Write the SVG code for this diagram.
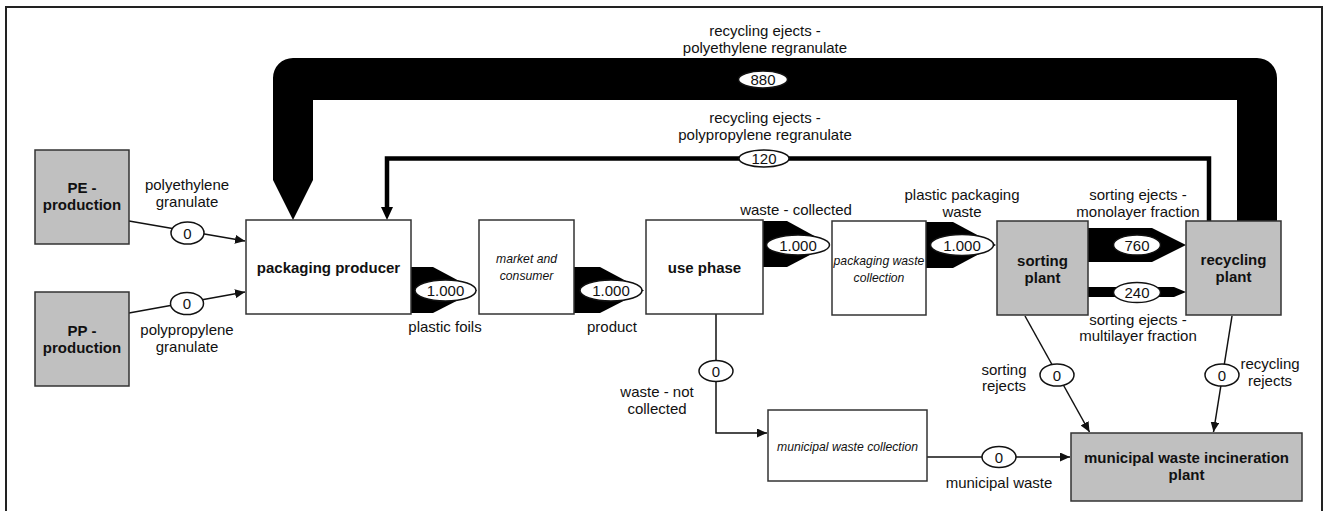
<svg xmlns="http://www.w3.org/2000/svg" width="1328" height="511" viewBox="0 0 1328 511">
<defs>
<style>
text{font-family:"Liberation Sans",Arial,sans-serif;fill:#111;text-anchor:middle}
.l{font-size:15px}
.b{font-size:15px;font-weight:bold}
.i{font-size:12.2px;font-style:italic}
.box{fill:#fff;stroke:#333;stroke-width:1.5}
.g{fill:#c0c0c0;stroke:#333;stroke-width:1.5}
.ln{fill:none;stroke:#111;stroke-width:1.5}
.fat{fill:#000}
.ov{fill:#fff;stroke:#111;stroke-width:1.5}
.v{font-size:15px}
</style>
<marker id="ah" markerUnits="userSpaceOnUse" markerWidth="11" markerHeight="9" refX="10" refY="4.5" orient="auto">
<path d="M0,0 L10,4.5 L0,9 Z" fill="#111"/>
</marker>
</defs>
<rect x="6" y="7" width="1316" height="520" fill="#fff" stroke="#222" stroke-width="2"/>

<g id="connectors">
<!-- 880 recycling PE regranulate -->
<path class="fat" d="M273 180 L293 220 L313 180 V100 H1237 V221 H1277 V78 A20 20 0 0 0 1257 58 H293 A20 20 0 0 0 273 78 Z"/>
<ellipse class="ov" cx="763" cy="79.5" rx="24.5" ry="8.5"/>
<text class="v" x="763" y="85">880</text>
<text class="l" x="765" y="36">recycling ejects -</text>
<text class="l" x="765" y="52.5">polyethylene regranulate</text>

<!-- 120 recycling PP regranulate -->
<path d="M1209 221 V158.5 H387 V208" fill="none" stroke="#000" stroke-width="4.5" stroke-linejoin="miter"/>
<polygon points="381,207 393,207 387,220" fill="#000"/>
<ellipse class="ov" cx="764" cy="158.5" rx="25" ry="8.5"/>
<text class="v" x="764" y="164">120</text>
<text class="l" x="765" y="123">recycling ejects -</text>
<text class="l" x="765" y="140">polypropylene regranulate</text>

<!-- PE granulate -->
<line class="ln" x1="129" y1="221" x2="245" y2="241" marker-end="url(#ah)"/>
<ellipse class="ov" cx="187.5" cy="233" rx="16.5" ry="11"/>
<text class="v" x="187.5" y="238.5">0</text>
<text class="l" x="187" y="190">polyethylene</text>
<text class="l" x="187" y="207">granulate</text>

<!-- PP granulate -->
<line class="ln" x1="129" y1="313" x2="245" y2="292" marker-end="url(#ah)"/>
<ellipse class="ov" cx="187" cy="303.5" rx="16.5" ry="11"/>
<text class="v" x="187" y="309">0</text>
<text class="l" x="187" y="335">polypropylene</text>
<text class="l" x="187" y="352">granulate</text>

<!-- plastic foils -->
<path class="fat" d="M411 267 H433 L477 290.5 L433 313 H411 Z"/>
<ellipse class="ov" cx="445.5" cy="290.5" rx="30.5" ry="10.5"/>
<text class="v" x="445.5" y="296">1.000</text>
<text class="l" x="445" y="332">plastic foils</text>

<!-- product -->
<path class="fat" d="M574 267 H600 L644 290.5 L600 313 H574 Z"/>
<ellipse class="ov" cx="611" cy="290.5" rx="31" ry="10.5"/>
<text class="v" x="611" y="296">1.000</text>
<text class="l" x="612" y="332">product</text>

<!-- waste collected -->
<path class="fat" d="M763 221 H787 L830 244.5 L787 267 H763 Z"/>
<ellipse class="ov" cx="798" cy="245" rx="31.5" ry="10"/>
<text class="v" x="798" y="250.5">1.000</text>
<text class="l" x="796" y="215">waste - collected</text>

<!-- plastic packaging waste -->
<path class="fat" d="M926 222 H953 L996 245 L953 268 H926 Z"/>
<ellipse class="ov" cx="962" cy="245" rx="31.5" ry="10.5"/>
<text class="v" x="962" y="250.5">1.000</text>
<text class="l" x="962" y="200">plastic packaging</text>
<text class="l" x="962" y="217">waste</text>

<!-- 760 monolayer -->
<path class="fat" d="M1088 228 H1152 L1186 245 L1152 262 H1088 Z"/>
<ellipse class="ov" cx="1137" cy="245" rx="23.5" ry="10"/>
<text class="v" x="1137" y="250.5">760</text>
<text class="l" x="1138" y="200">sorting ejects -</text>
<text class="l" x="1138" y="217">monolayer fraction</text>

<!-- 240 multilayer -->
<path class="fat" d="M1088 287 H1174 L1186 292 L1174 297 H1088 Z"/>
<ellipse class="ov" cx="1137" cy="292.5" rx="23.5" ry="10"/>
<text class="v" x="1137" y="298">240</text>
<text class="l" x="1138" y="324.5">sorting ejects -</text>
<text class="l" x="1138" y="341">multilayer fraction</text>

<!-- waste not collected -->
<path class="ln" d="M716 314 V433 H767" marker-end="url(#ah)"/>
<ellipse class="ov" cx="716" cy="371" rx="17" ry="10.5"/>
<text class="v" x="716" y="376.5">0</text>
<text class="l" x="657" y="397">waste - not</text>
<text class="l" x="657" y="414">collected</text>

<!-- municipal waste -->
<path class="ln" d="M927 457 H1070" marker-end="url(#ah)"/>
<ellipse class="ov" cx="999" cy="457" rx="17" ry="10.5"/>
<text class="v" x="999" y="462.5">0</text>
<text class="l" x="999" y="488">municipal waste</text>

<!-- sorting rejects -->
<path class="ln" d="M1025 316 L1089.5 432" marker-end="url(#ah)"/>
<ellipse class="ov" cx="1057" cy="375" rx="17" ry="11"/>
<text class="v" x="1057" y="380.5">0</text>
<text class="l" x="1004" y="374.5">sorting</text>
<text class="l" x="1004" y="391">rejects</text>

<!-- recycling rejects -->
<path class="ln" d="M1232 316 L1213.5 432" marker-end="url(#ah)"/>
<ellipse class="ov" cx="1222" cy="375" rx="17" ry="11"/>
<text class="v" x="1222" y="380.5">0</text>
<text class="l" x="1270" y="369">recycling</text>
<text class="l" x="1270" y="386">rejects</text>
</g>

<g id="pe-production">
<rect class="g" x="35" y="150" width="94" height="94"/>
<text class="b" x="82" y="193">PE -</text>
<text class="b" x="82" y="210">production</text>
</g>
<g id="pp-production">
<rect class="g" x="35" y="292" width="94" height="94"/>
<text class="b" x="82" y="336">PP -</text>
<text class="b" x="82" y="353">production</text>
</g>
<g id="packaging-producer">
<rect class="box" x="246" y="220" width="165" height="94"/>
<text class="b" x="328.5" y="273">packaging producer</text>
</g>
<g id="market-consumer">
<rect class="box" x="479" y="220" width="95" height="94"/>
<text class="i" x="526.5" y="263">market and</text>
<text class="i" x="526.5" y="280">consumer</text>
</g>
<g id="use-phase">
<rect class="box" x="646" y="220" width="117" height="94"/>
<text class="b" x="704.5" y="273">use phase</text>
</g>
<g id="packaging-waste-collection">
<rect class="box" x="832" y="221" width="94" height="94"/>
<text class="i" x="879" y="265">packaging waste</text>
<text class="i" x="879" y="282">collection</text>
</g>
<g id="sorting-plant">
<rect class="g" x="997" y="221" width="91" height="94"/>
<text class="b" x="1042.5" y="266">sorting</text>
<text class="b" x="1042.5" y="283">plant</text>
</g>
<g id="recycling-plant">
<rect class="g" x="1186" y="221" width="95" height="94"/>
<text class="b" x="1233.5" y="265">recycling</text>
<text class="b" x="1233.5" y="282">plant</text>
</g>
<g id="municipal-waste-collection">
<rect class="box" x="768" y="410" width="159" height="71"/>
<text class="i" x="847.5" y="451">municipal waste collection</text>
</g>
<g id="incineration-plant">
<rect class="g" x="1071" y="433" width="231" height="68"/>
<text class="b" x="1186.5" y="463">municipal waste incineration</text>
<text class="b" x="1186.5" y="480">plant</text>
</g>
</svg>
